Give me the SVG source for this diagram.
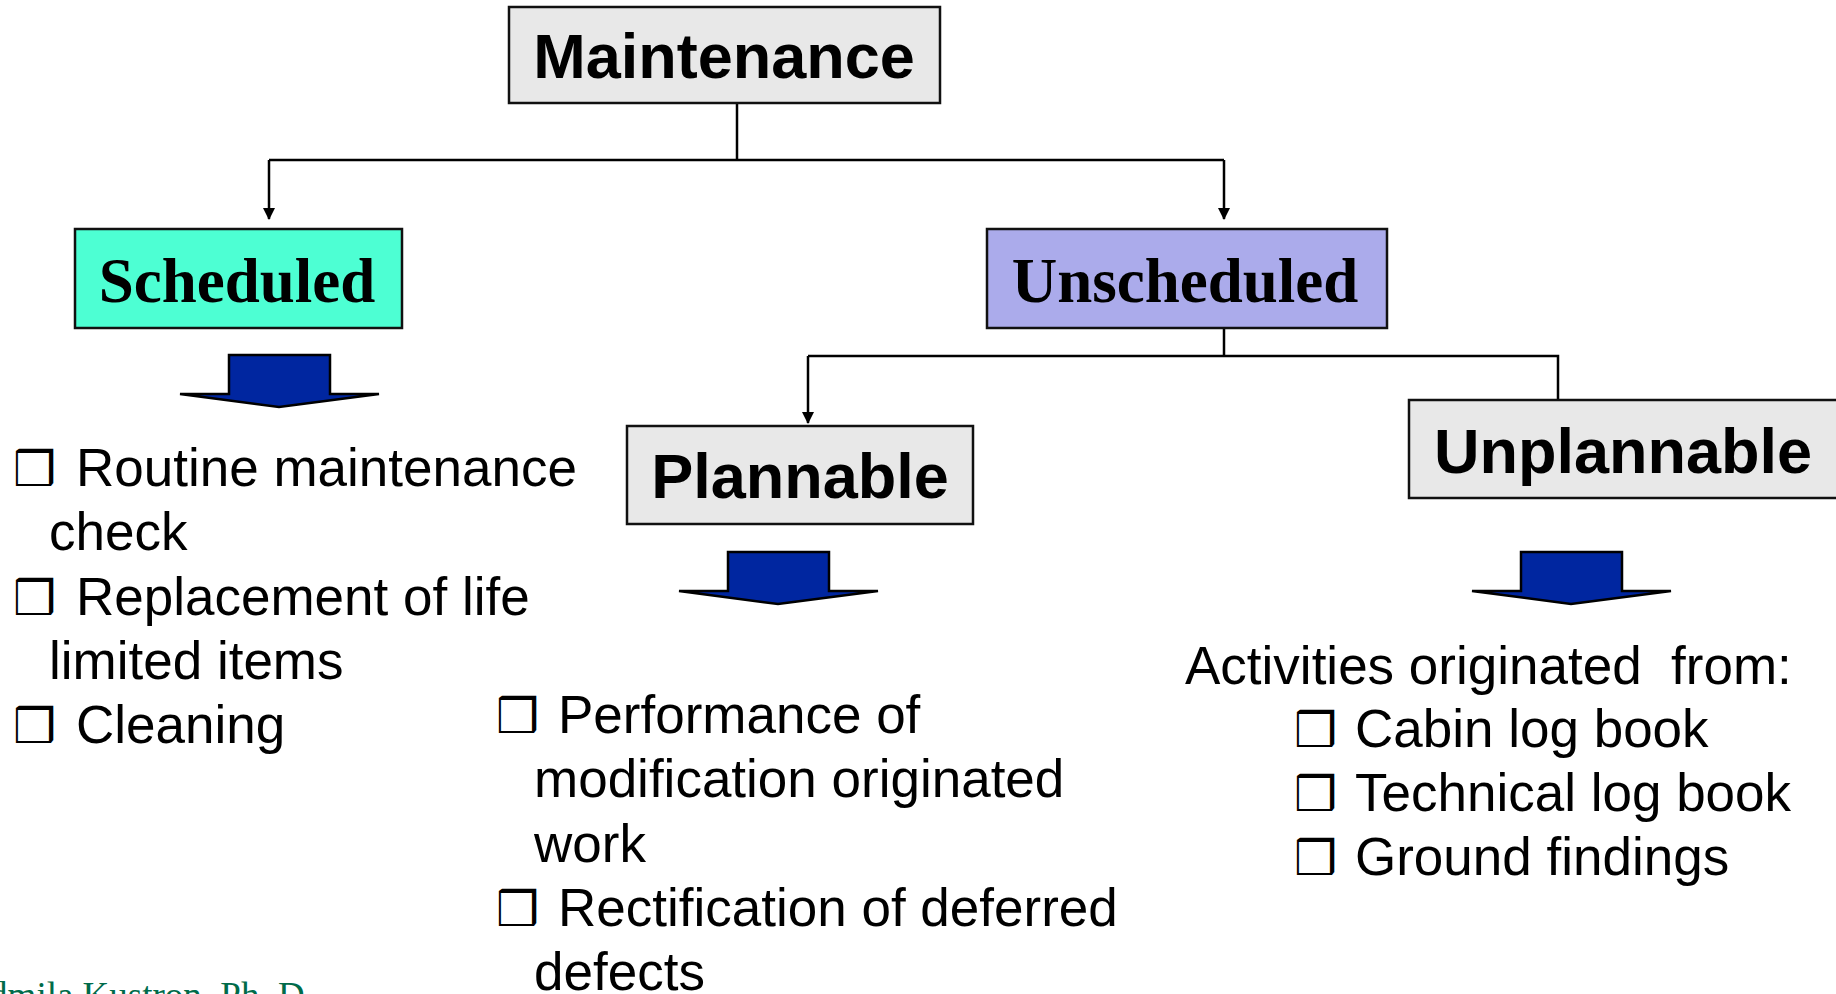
<svg xmlns="http://www.w3.org/2000/svg" xmlns:xlink="http://www.w3.org/1999/xlink" width="1836" height="994" viewBox="0 0 1836 994">
<style>
.box{stroke:#111;stroke-width:2.5}
.grey{fill:#e8e8e8}
.aqua{fill:#4dffd3}
.lav{fill:#ababeb}
.hs{font-family:"Liberation Sans",Arial,sans-serif;font-weight:bold;font-size:63px;fill:#000;text-anchor:middle}
.ht{font-family:"Liberation Serif","Times New Roman",serif;font-weight:bold;font-size:63px;fill:#000;text-anchor:middle}
.li{font-family:"Liberation Sans",Arial,sans-serif;font-size:53px;fill:#000}
.bu{font-family:"DejaVu Sans",sans-serif;font-weight:bold;font-size:48px;fill:#000}
.conn{stroke:#000;stroke-width:2.5;fill:none}
.blk{fill:#0026a0;stroke:#000;stroke-width:2.5;stroke-linejoin:miter}
.foot{font-family:"Liberation Serif","Times New Roman",serif;font-size:37px;fill:#006b4a}
</style>
<defs>
<marker id="ah" markerUnits="userSpaceOnUse" markerWidth="12" markerHeight="12" refX="11" refY="6" orient="auto">
<path d="M0,0 L12,6 L0,12 z" fill="#000"/>
</marker>
<path id="blockarrow" d="M-50,0 L51,0 L51,39 L100,39 L0,52 L-99,39 L-50,39 Z"/>
</defs>

<g id="connectors">
<path class="conn" d="M737,103 V160"/>
<path class="conn" d="M269,160 H1224"/>
<path class="conn" d="M269,160 V219" marker-end="url(#ah)"/>
<path class="conn" d="M1224,160 V219" marker-end="url(#ah)"/>
<path class="conn" d="M1224,328 V356"/>
<path class="conn" d="M808,356 H1558 V400"/>
<path class="conn" d="M808,356 V423" marker-end="url(#ah)"/>
</g>

<g id="maintenance">
<rect class="box grey" x="509" y="7" width="431" height="96"/>
<text class="hs" x="724" y="78">Maintenance</text>
</g>

<g id="scheduled">
<rect class="box aqua" x="75" y="229" width="327" height="99"/>
<text class="ht" x="237" y="302">Scheduled</text>
<use xlink:href="#blockarrow" class="blk" transform="translate(279,355)"/>
</g>

<g id="unscheduled">
<rect class="box lav" x="987" y="229" width="400" height="99"/>
<text class="ht" x="1185" y="302">Unscheduled</text>
</g>

<g id="plannable">
<rect class="box grey" x="627" y="426" width="346" height="98"/>
<text class="hs" x="800" y="498">Plannable</text>
<use xlink:href="#blockarrow" class="blk" transform="translate(778,552)"/>
</g>

<g id="unplannable">
<rect class="box grey" x="1409" y="400" width="432" height="98"/>
<text class="hs" x="1623" y="473">Unplannable</text>
<use xlink:href="#blockarrow" class="blk" transform="translate(1571,552)"/>
</g>

<g id="scheduled-list">
<text class="bu" x="13" y="486">❒</text>
<text class="li" x="76" y="486">Routine maintenance</text>
<text class="li" x="49" y="550">check</text>
<text class="bu" x="13" y="615">❒</text>
<text class="li" x="76" y="615">Replacement of life</text>
<text class="li" x="49" y="679">limited items</text>
<text class="bu" x="13" y="743">❒</text>
<text class="li" x="76" y="743">Cleaning</text>
</g>

<g id="plannable-list">
<text class="bu" x="496" y="733">❒</text>
<text class="li" x="558" y="733">Performance of</text>
<text class="li" x="534" y="797">modification originated</text>
<text class="li" x="534" y="862">work</text>
<text class="bu" x="496" y="926">❒</text>
<text class="li" x="558" y="926">Rectification of deferred</text>
<text class="li" x="534" y="990">defects</text>
</g>

<g id="unplannable-list">
<text class="li" x="1185" y="684" xml:space="preserve">Activities originated  from:</text>
<text class="bu" x="1294" y="747">❒</text>
<text class="li" x="1355" y="747">Cabin log book</text>
<text class="bu" x="1294" y="811">❒</text>
<text class="li" x="1355" y="811">Technical log book</text>
<text class="bu" x="1294" y="875">❒</text>
<text class="li" x="1355" y="875">Ground findings</text>
</g>

<text class="foot" x="-52" y="1008">Ludmila Kustron, Ph. D.</text>
</svg>
